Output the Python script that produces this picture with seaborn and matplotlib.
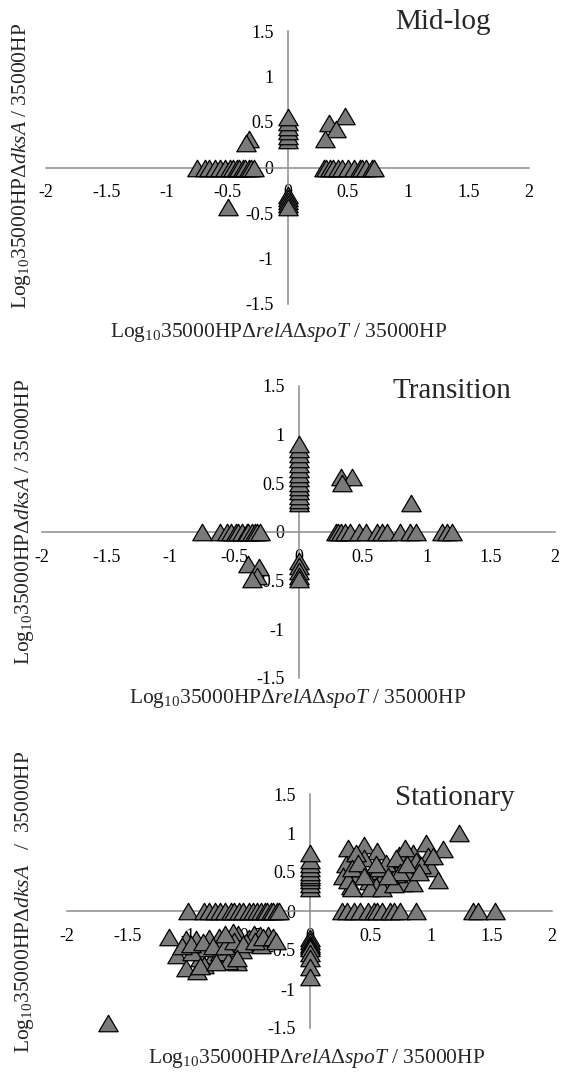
import matplotlib
matplotlib.use('Agg')
import matplotlib.pyplot as plt
from matplotlib.path import Path
from matplotlib.ticker import FuncFormatter
import pandas as pd
import seaborn as sns

# ---- data ----
# points sitting on the x axis (y = 0), on the y axis (x = 0), and the rest

# Mid-log
midlog_on_x = [-0.75, -0.68, -0.65, -0.6, -0.56, -0.52, -0.48, -0.45, -0.42, -0.4,
               -0.37, -0.35, -0.32, -0.3, -0.28,
               0.3, 0.32, 0.35, 0.38, 0.42, 0.45, 0.5, 0.55, 0.6, 0.62, 0.65, 0.7, 0.72]
midlog_on_y = [0.3, 0.35, 0.4, 0.45, 0.5, 0.55, -0.3, -0.33, -0.37, -0.4, -0.43]
midlog_x = [-0.32, -0.34, 0.34, 0.48, 0.40, 0.31, -0.49]
midlog_y = [0.31, 0.27, 0.49, 0.57, 0.42, 0.31, -0.43]

# Transition
trans_on_x = [-0.75, -0.61, -0.56, -0.53, -0.49, -0.47, -0.44, -0.4, -0.39, -0.36,
              -0.34, -0.32, -0.3,
              0.29, 0.31, 0.33, 0.36, 0.4, 0.47, 0.53, 0.61, 0.65, 0.69, 0.79, 0.87,
              0.92, 1.12, 1.16, 1.2]
trans_on_y = [0.3, 0.33, 0.37, 0.42, 0.46, 0.5, 0.55, 0.6, 0.65, 0.7, 0.75, 0.8, 0.85,
              0.9, -0.3, -0.35, -0.4, -0.45, -0.48]
trans_x = [0.33, 0.42, 0.34, 0.88, -0.39, -0.31, -0.32, -0.36]
trans_y = [0.57, 0.57, 0.5, 0.3, -0.33, -0.36, -0.45, -0.48]

# Stationary
stat_on_x = [-1.0, -0.87, -0.83, -0.78, -0.74, -0.7, -0.65, -0.62, -0.58, -0.55, -0.5,
             -0.47, -0.43, -0.4, -0.37, -0.35, -0.32, -0.3, -0.27, -0.25,
             0.27, 0.31, 0.37, 0.42, 0.48, 0.53, 0.56, 0.6, 0.66, 0.7, 0.75, 0.88,
             1.35, 1.39, 1.53]
stat_on_y = [0.3, 0.35, 0.4, 0.43, 0.46, 0.5, 0.55, 0.6, 0.65, 0.75,
             -0.35, -0.38, -0.42, -0.45, -0.47, -0.54, -0.6, -0.72, -0.84]
stat_x = [-1.16, -1.09, -1.02, -0.94, -1.02, -0.93, -0.9, -0.83, -0.79, -0.75, -0.65,
          -0.6, -0.59, -0.5, -0.46, -0.41, -0.34, -0.85, -0.97, -0.74, -0.67, -0.52,
          -0.71, -0.87, -0.56, -0.4, -0.63, -1.05, -0.98, -0.88, -0.8, -0.7, -0.62,
          -0.55, -0.45, -0.38, -0.3, -0.28, -0.9, -0.77, -0.6, -0.7, -1.66,
          1.23, 0.96, 1.1, 0.98, 1.0, 1.06, 0.32, 0.45, 0.56, 0.3, 0.39, 0.34, 0.45,
          0.52, 0.49, 0.6, 0.66, 0.74, 0.77, 0.85, 0.79, 0.82, 0.88, 0.77, 0.85, 0.66,
          0.71, 0.57, 0.42, 0.28, 0.32, 0.55, 0.63, 0.38, 0.92, 1.02, 0.71,
          0.35, 0.4, 0.5, 0.6, 0.7, 0.75, 0.65, 0.45, 0.55, 0.8, 0.9, 0.35]
stat_y = [-0.33, -0.56, -0.36, -0.36, -0.73, -0.77, -0.6, -0.35, -0.56, -0.33, -0.48,
          -0.66, -0.29, -0.35, -0.29, -0.31, -0.31, -0.48, -0.52, -0.52, -0.64, -0.4,
          -0.37, -0.69, -0.5, -0.44, -0.27, -0.45, -0.42, -0.4, -0.45, -0.45, -0.38,
          -0.42, -0.38, -0.33, -0.33, -0.38, -0.7, -0.65, -0.6, -0.3, -1.43,
          1.0, 0.87, 0.79, 0.7, 0.55, 0.4, 0.81, 0.85, 0.77, 0.6, 0.45, 0.32, 0.68,
          0.51, 0.38, 0.42, 0.55, 0.72, 0.68, 0.74, 0.81, 0.51, 0.64, 0.36, 0.36, 0.38,
          0.47, 0.55, 0.55, 0.45, 0.4, 0.32, 0.62, 0.74, 0.59, 0.7, 0.68,
          0.55, 0.62, 0.3, 0.3, 0.35, 0.5, 0.45, 0.45, 0.6, 0.6, 0.5, 0.3]

ticks_x = [-2, -1.5, -1, -0.5, 0, 0.5, 1, 1.5, 2]
ticks_y = [-1.5, -1, -0.5, 0, 0.5, 1, 1.5]


def build(on_x, on_y, xs, ys):
    x = list(on_x) + [0.0] * len(on_y) + list(xs)
    y = [0.0] * len(on_x) + list(on_y) + list(ys)
    return pd.DataFrame({'x': x, 'y': y})


sns.set_theme(style='white')
plt.rcParams['font.family'] = ['Liberation Serif', 'DejaVu Serif']
plt.rcParams['mathtext.fontset'] = 'custom'
plt.rcParams['mathtext.rm'] = 'Liberation Serif'
plt.rcParams['mathtext.it'] = 'Liberation Serif:italic'
plt.rcParams['axes.unicode_minus'] = False

W, H = 565, 1073
fig = plt.figure(figsize=(W / 100, H / 100), dpi=100)

tri = Path([(0, 0.85), (-1, -0.85), (1, -0.85), (0, 0.85)],
           [Path.MOVETO, Path.LINETO, Path.LINETO, Path.CLOSEPOLY])

xlab = r'Log$_{10}$35000HPΔ$\it{relA}$Δ$\it{spoT}$ / 35000HP'

panels = [
    # name, data, axes box (left, right, top, bottom px), title xy, xlabel xy, ylabel xy, ylabel
    ('Mid-log', build(midlog_on_x, midlog_on_y, midlog_x, midlog_y),
     (46, 529, 31, 304), (443, 22), (279, 333), (22, 166),
     r'Log$_{10}$35000HPΔ$\it{dksA}$ / 35000HP'),
    ('Transition', build(trans_on_x, trans_on_y, trans_x, trans_y),
     (42, 555, 386, 678), (452, 391), (298, 699), (25, 522),
     r'Log$_{10}$35000HPΔ$\it{dksA}$ / 35000HP'),
    ('Stationary', build(stat_on_x, stat_on_y, stat_x, stat_y),
     (67, 552, 794, 1028), (455, 798), (317, 1058), (25, 902),
     r'Log$_{10}$35000HPΔ$\it{dksA}$   /  35000HP'),
]

axis_grey = '#8c8c8c'

for name, df, (l, r, t, b), (tx, ty), (lx, ly), (yx, yy), ylab in panels:
    ax = fig.add_axes([l / W, 1 - b / H, (r - l) / W, (b - t) / H])
    sns.scatterplot(data=df, x='x', y='y', ax=ax, marker=tri, s=195,
                    color='#7a7a7a', edgecolor='black', linewidth=0.9,
                    clip_on=False, zorder=3, legend=False)
    ax.set_xlim(-2, 2)
    ax.set_ylim(-1.5, 1.5)
    ax.spines['left'].set_position(('data', 0))
    ax.spines['bottom'].set_position(('data', 0))
    ax.spines['right'].set_visible(False)
    ax.spines['top'].set_visible(False)
    for s in ('left', 'bottom'):
        ax.spines[s].set_color(axis_grey)
        ax.spines[s].set_linewidth(1.1)
    ax.set_xticks(ticks_x)
    ax.set_yticks(ticks_y)
    fmt = FuncFormatter(lambda v, p: '{:g}'.format(v))
    ax.xaxis.set_major_formatter(fmt)
    ax.yaxis.set_major_formatter(fmt)
    ax.tick_params(axis='x', direction='in', length=5, width=1.1, color=axis_grey,
                   pad=12, labelsize=13, labelcolor='black')
    ax.tick_params(axis='y', direction='out', length=5, width=1.1, color=axis_grey,
                   pad=5, labelsize=13, labelcolor='black')
    ax.set_xlabel('')
    ax.set_ylabel('')
    ax.patch.set_visible(False)

    fig.text(tx / W, 1 - ty / H, name, fontsize=21, ha='center', va='center')
    fig.text(lx / W, 1 - ly / H, xlab, fontsize=15.5, ha='center', va='center')
    fig.text(yx / W, 1 - yy / H, ylab, fontsize=15.5, ha='center', va='center',
             rotation=90)

fig.savefig('out.png', dpi=100)
